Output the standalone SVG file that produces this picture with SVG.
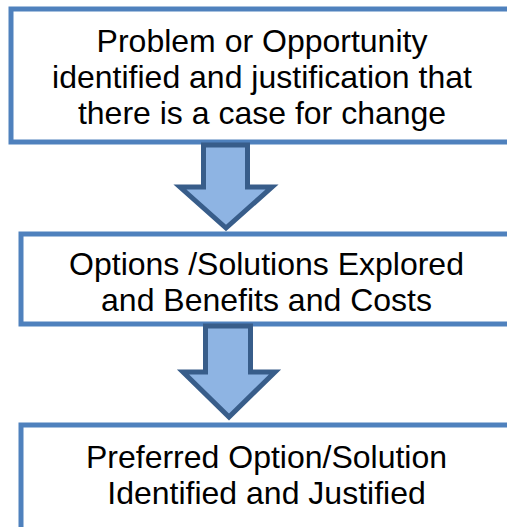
<svg xmlns="http://www.w3.org/2000/svg" width="507" height="527" viewBox="0 0 507 527">
  <style>
    .box { fill: #ffffff; stroke: #4f81bd; stroke-width: 5; }
    .lbl { font-family: "Liberation Sans", Arial, sans-serif; font-size: 32px; fill: #000000; text-anchor: middle; }
    .arrow { fill: #8eb4e3; stroke: #385d8a; stroke-width: 5; stroke-linejoin: miter; }
  </style>

  <!-- step boxes -->
  <g id="node-problem">
    <rect class="box" x="11" y="9" width="504" height="133"/>
    <text class="lbl" x="262" y="52">Problem or Opportunity</text>
    <text class="lbl" x="262" y="88">identified and justification that</text>
    <text class="lbl" x="262" y="124">there is a case for change</text>
  </g>

  <g id="node-options">
    <rect class="box" x="21" y="234" width="494" height="90"/>
    <text class="lbl" x="266.5" y="275">Options /Solutions Explored</text>
    <text class="lbl" x="266.5" y="311">and Benefits and Costs</text>
  </g>

  <g id="node-preferred">
    <rect class="box" x="21" y="425" width="494" height="110"/>
    <text class="lbl" x="266.5" y="468">Preferred Option/Solution</text>
    <text class="lbl" x="266.5" y="504">Identified and Justified</text>
  </g>

  <!-- block arrows between steps -->
  <g id="connectors">
    <polygon class="arrow" points="203.5,145 247.5,145 247.5,187 272,187 226,228 180,187 203.5,187"/>
    <polygon class="arrow" points="205.5,326 250.5,326 250.5,372 275,372 229,417 183,372 205.5,372"/>
  </g>
</svg>
